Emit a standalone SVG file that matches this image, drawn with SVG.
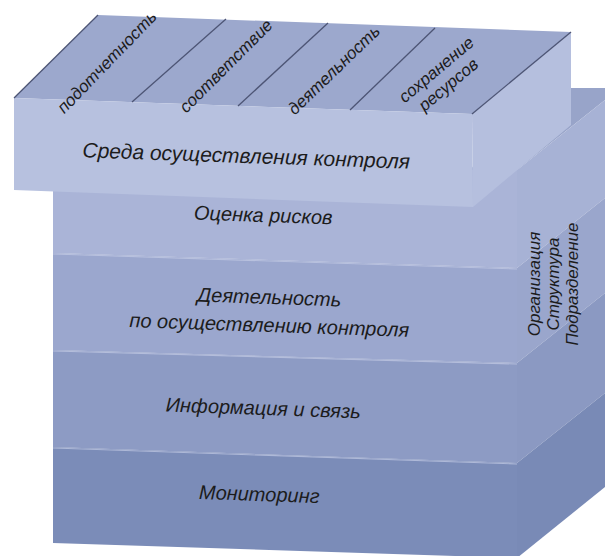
<svg xmlns="http://www.w3.org/2000/svg" width="605" height="556" viewBox="0 0 605 556">
  <style>
    .lbl { font-family: "Liberation Sans", Arial, sans-serif; font-style: italic; fill: #1c1c1c; text-anchor: middle; }
    .big { font-size: 20px; }
    .title { font-size: 21px; }
    .top { font-size: 17px; }
    .side { font-size: 17px; }
    .div { stroke: #4d5575; stroke-width: 1.3; fill: none; }
    .edge { stroke: #c4cce6; stroke-width: 1.2; opacity: 0.7; fill: none; }
  </style>
  <rect width="605" height="556" fill="#ffffff"/>

  <!-- lower stack top face (visible part) -->
  <g id="stack-top">
    <polygon points="470,170 517,170 605,100 605,88 540,88" fill="#98a4c9"/>
  </g>

  <!-- layer: Оценка рисков -->
  <g id="node-risk">
    <polygon points="53,170 517,170 517,268 53,253" fill="#aab4d7"/>
    <polygon points="517,170 605,100 605,198 517,268" fill="#a7b2d5"/>
    <text class="lbl big" x="263" y="222" transform="rotate(2 263 222)">Оценка рисков</text>
  </g>

  <!-- layer: Деятельность по осуществлению контроля -->
  <g id="node-activity">
    <polygon points="53,253 517,268 517,363 53,350" fill="#9ba7ce"/>
    <polygon points="517,268 605,198 605,293 517,363" fill="#9aa6cc"/>
    <line class="edge" x1="53" y1="254" x2="517" y2="269"/>
    <text class="lbl big" x="269" y="304" transform="rotate(2 269 304)">Деятельность</text>
    <text class="lbl big" x="269" y="332" transform="rotate(2 269 332)">по осуществлению контроля</text>
  </g>

  <!-- layer: Информация и связь -->
  <g id="node-info">
    <polygon points="53,350 517,363 517,463 53,447" fill="#8d9bc4"/>
    <polygon points="517,363 605,293 605,393 517,463" fill="#8b99c2"/>
    <line class="edge" x1="53" y1="351" x2="517" y2="364"/>
    <text class="lbl big" x="263" y="415" transform="rotate(2 263 415)">Информация и связь</text>
  </g>

  <!-- layer: Мониторинг -->
  <g id="node-monitoring">
    <polygon points="53,447 517,463 517,558 53,543" fill="#7b8cb8"/>
    <polygon points="517,463 605,393 605,487 517,558" fill="#798ab6"/>
    <line class="edge" x1="53" y1="448" x2="517" y2="464"/>
    <text class="lbl big" x="259" y="501" transform="rotate(2 259 501)">Мониторинг</text>
  </g>

  <!-- side labels -->
  <g id="node-org">
    <text class="lbl side" transform="translate(540 284) rotate(-90)">Организация</text>
    <text class="lbl side" transform="translate(559 284) rotate(-90)">Структура</text>
    <text class="lbl side" transform="translate(578 284) rotate(-90)">Подразделение</text>
  </g>

  <!-- top slab: Среда осуществления контроля -->
  <g id="node-environment">
    <polygon points="14,98 98,15 571,32 472,114" fill="#9ca8cd"/>
    <polygon points="14,98 472,114 473,207 14,190" fill="#b7c1df"/>
    <polygon points="472,114 571,32 571,125 473,207" fill="#b5bfde"/>
    <line class="div" x1="14" y1="98" x2="98" y2="15"/>
    <line class="div" x1="132" y1="102" x2="226" y2="19"/>
    <line class="div" x1="238" y1="106" x2="328" y2="23"/>
    <line class="div" x1="350" y1="110" x2="435" y2="28"/>
    <line class="div" x1="472" y1="114" x2="571" y2="32"/>
    <text class="lbl title" x="246" y="163" transform="rotate(2 246 163)">Среда осуществления контроля</text>
    <text class="lbl top" transform="translate(111 66) rotate(-46)">подотчетность</text>
    <text class="lbl top" transform="translate(230 70) rotate(-45)">соответствие</text>
    <text class="lbl top" transform="translate(338 74) rotate(-44)">деятельность</text>
    <text class="lbl top" transform="translate(440 74) rotate(-40)">сохранение</text>
    <text class="lbl top" transform="translate(452 89) rotate(-40)">ресурсов</text>
  </g>

  <g id="connectors"/>
</svg>
